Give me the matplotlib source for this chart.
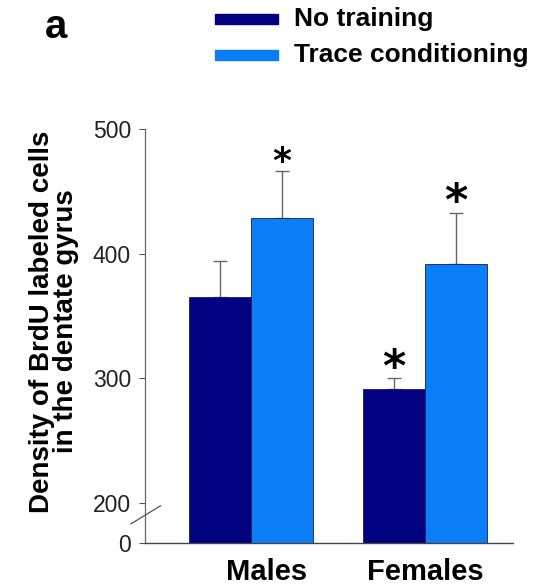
import numpy as np
import matplotlib
matplotlib.use('Agg')
import matplotlib.pyplot as plt
from matplotlib.patches import Rectangle

# data
groups = ['Males', 'Females']
series = ['No training', 'Trace conditioning']
colors = ['#000080', '#0a7df7']
means = {'No training': [365, 291], 'Trace conditioning': [429, 392]}
errs = {'No training': [29, 9], 'Trace conditioning': [37, 41]}
signif = {'No training': [False, True], 'Trace conditioning': [True, True]}
yticks = [0, 200, 300, 400, 500]

plt.rcParams['font.family'] = ['Liberation Sans', 'DejaVu Sans']

# broken axis: 0-200 squeezed into a short stretch
squeeze = 32.26 / 200.0

def fwd(y):
    y = np.asarray(y, dtype=float)
    return np.where(y < 200, 200 - (200 - y) * squeeze, y)

def inv(t):
    t = np.asarray(t, dtype=float)
    return np.where(t < 200, 200 - (200 - t) / squeeze, t)

fig = plt.figure(figsize=(5.37, 5.87), dpi=100)
ax = fig.add_axes([0.270, 0.075, 0.685, 0.705])
ax.set_yscale('function', functions=(fwd, inv))

x = np.arange(len(groups))
w = 0.356
for i, s in enumerate(series):
    xpos = x + (i - 0.5) * w
    ax.bar(xpos, means[s], w, color=colors[i], edgecolor='#1a1a60', linewidth=0.6, zorder=2)
    ax.errorbar(xpos, means[s], yerr=[np.zeros(len(groups)), errs[s]], fmt='none',
                ecolor='#666666', elinewidth=1.0, capsize=5, capthick=1.0, zorder=1)
    for j in range(len(groups)):
        if signif[s][j]:
            fs = 26 if j == 0 else 32
            ax.annotate('*', xy=(xpos[j], means[s][j] + errs[s][j]), xytext=(0, 7),
                        textcoords='offset points', ha='center', va='center',
                        fontsize=fs, fontweight='bold', family='DejaVu Sans')

ax.set_xlim(-0.609, 1.506)
ax.set_ylim(0, 500)
ax.set_yticks(yticks)
ax.set_yticklabels([str(t) for t in yticks], fontsize=16.5, color='#222222')
ax.tick_params(axis='y', length=4, width=0.8, color='#555555', pad=6)
ax.set_xticks([])
ax.spines['top'].set_visible(False)
ax.spines['right'].set_visible(False)
ax.spines['left'].set_color('#666666')
ax.spines['bottom'].set_color('#444444')
ax.spines['left'].set_linewidth(0.9)
ax.spines['bottom'].set_linewidth(1.0)

# group labels
lab_x = [0.09, 1.0]
for gx, g in zip(lab_x, groups):
    ax.text(gx, -0.07, g, transform=ax.get_xaxis_transform(), ha='center', va='center',
            fontsize=21, fontweight='bold')

# axis break mark
ax.plot([-0.69, -0.52], [95, 185], color='#555555', linewidth=0.9, clip_on=False)

ax.text(-0.247, 0.535, 'Density of BrdU labeled cells\nin the dentate gyrus', transform=ax.transAxes,
        rotation=90, ha='center', va='center', fontsize=20, fontweight='bold', linespacing=0.93)

# legend, drawn by hand
for i, s in enumerate(series):
    yc = 1 - (19 + 36 * i) / 587
    fig.add_artist(Rectangle((215 / 537, yc - 4.5 / 587), 63 / 537, 9 / 587,
                             transform=fig.transFigure, color=colors[i]))
    fig.text(294 / 537, yc, s, ha='left', va='center', fontsize=19, fontweight='bold')

fig.text(56 / 537, 1 - 27 / 587, 'a', ha='center', va='center', fontsize=29, fontweight='bold')

fig.savefig('out.png', dpi=100)
